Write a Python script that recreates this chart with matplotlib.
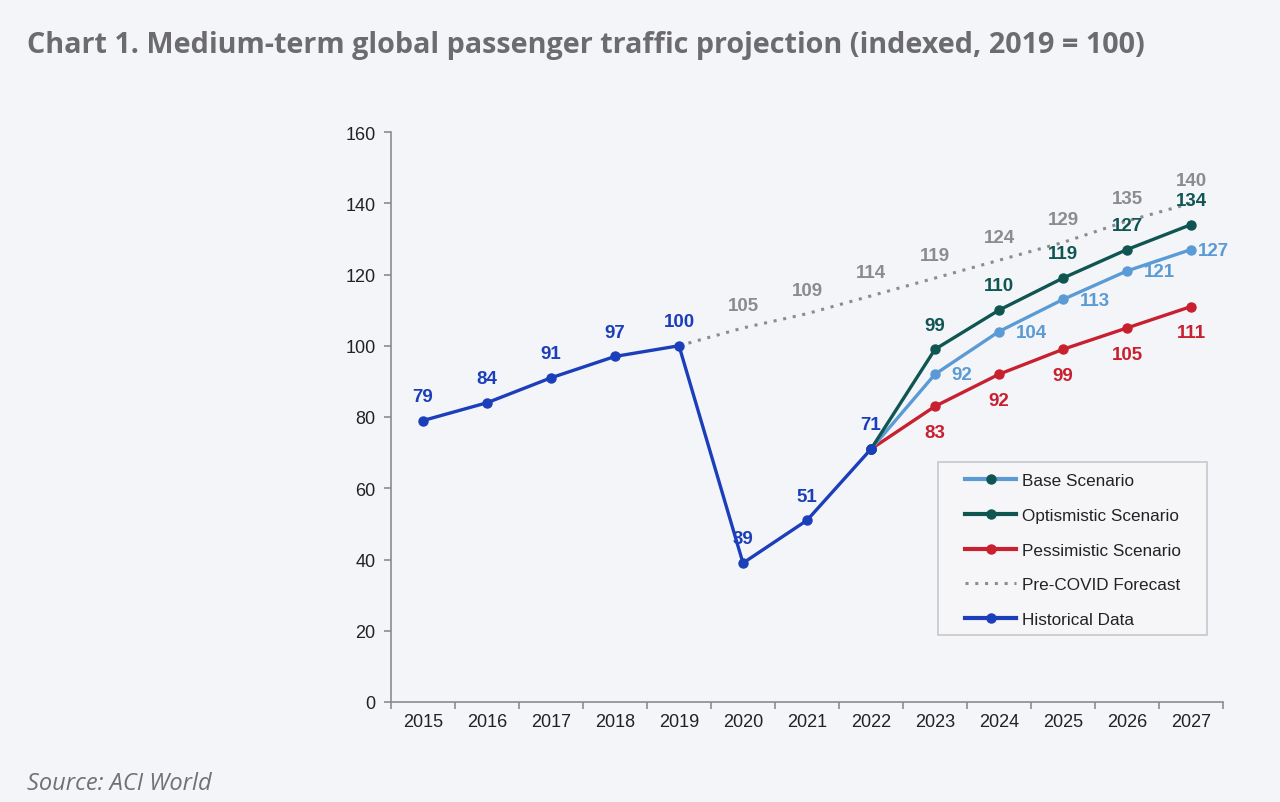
import matplotlib
matplotlib.use("Agg")
import matplotlib.pyplot as plt
from matplotlib.lines import Line2D
from matplotlib.patches import Rectangle

years = ["2015", "2016", "2017", "2018", "2019", "2020", "2021", "2022",
         "2023", "2024", "2025", "2026", "2027"]
historical = [79, 84, 91, 97, 100, 39, 51, 71]          # 2015-2022
precovid = [100, 105, 109, 114, 119, 124, 129, 135, 140]  # 2019-2027
base = [71, 92, 104, 113, 121, 127]                     # 2022-2027
optimistic = [71, 99, 110, 119, 127, 134]
pessimistic = [71, 83, 92, 99, 105, 111]

BG = "#F4F5F9"
C_HIST = "#1B3EBB"
C_BASE = "#5B9BD5"
C_OPT = "#0F5652"
C_PESS = "#C8202F"
C_PRE = "#8C8C8C"

plt.rcParams["font.family"] = ["Liberation Sans", "DejaVu Sans"]

W, H = 1280, 803
fig = plt.figure(figsize=(12.8, 8.03), dpi=100, facecolor=BG)
ax = fig.add_axes([391/W, 1-703/H, 832/W, 570/H], facecolor=BG)

xh = [i + 0.5 for i in range(0, 8)]
xp = [i + 0.5 for i in range(4, 13)]
xs = [i + 0.5 for i in range(7, 13)]

lw = 2.4
ms = 6.5
ax.plot(xp, precovid, linestyle=(0, (1, 2.2)), color=C_PRE, lw=2.2, zorder=2)
ax.plot(xh, historical, color=C_HIST, lw=lw, marker="o", ms=ms, zorder=3)
ax.plot(xs, pessimistic, color=C_PESS, lw=lw, marker="o", ms=ms, zorder=4)
ax.plot(xs, base, color=C_BASE, lw=lw, marker="o", ms=ms, zorder=5)
ax.plot(xs, optimistic, color=C_OPT, lw=lw, marker="o", ms=ms, zorder=6)
ax.plot(xs[:1], historical[-1:], color=C_HIST, marker="o", ms=ms, lw=0, zorder=7)

fs = 13.5
def lab(x, y, t, c, dx, dy, ha="center"):
    ax.annotate(t, (x, y), xytext=(dx, dy), textcoords="offset points",
                ha=ha, va="center", color=c, fontsize=fs, fontweight="bold", zorder=8)

for x, v in zip(xh, historical):
    lab(x, v, str(v), C_HIST, 0, 17.5)
for x, v in zip(xp[1:], precovid[1:]):
    lab(x, v, str(v), C_PRE, 0, 16.5)
for x, v in zip(xs[1:], optimistic[1:]):
    lab(x, v, str(v), C_OPT, 0, 17.5)
for x, v in zip(xs[1:], pessimistic[1:]):
    lab(x, v, str(v), C_PESS, 0, -19)
for i, (x, v) in enumerate(zip(xs[1:], base[1:])):
    lab(x, v, str(v), C_BASE, 12 if i < 4 else 5, -0.5, ha="left")

ax.set_xlim(0, 13)
ax.set_ylim(0, 160)
ax.set_yticks(range(0, 161, 20))
ax.set_xticks(range(0, 14))
ax.set_xticklabels([])
ax.set_xticks([i + 0.5 for i in range(13)], minor=True)
ax.set_xticklabels(years, minor=True)
ax.tick_params(axis="x", which="minor", length=0, pad=8, labelsize=13, colors="#222222")
ax.tick_params(axis="x", which="major", length=5, color="#8C8C8C", width=1.2)
ax.tick_params(axis="y", length=5, color="#8C8C8C", width=1.2, labelsize=13,
               labelcolor="#222222", pad=6)
for s in ["top", "right"]:
    ax.spines[s].set_visible(False)
for s in ["left", "bottom"]:
    ax.spines[s].set_color("#8C8C8C")
    ax.spines[s].set_linewidth(1.2)

# legend frame
fig.patches.append(Rectangle((938/W, 1-636/H), (1207-938)/W, (636-463)/H,
                             transform=fig.transFigure, facecolor="#F6F6F8",
                             edgecolor="#C8C8C8", lw=1.2, zorder=9))

handles = [
    Line2D([], [], color=C_BASE, lw=3, marker="o", ms=ms, markerfacecolor=C_OPT, markeredgecolor=C_OPT),
    Line2D([], [], color=C_OPT, lw=3, marker="o", ms=ms),
    Line2D([], [], color=C_PESS, lw=3, marker="o", ms=ms),
    Line2D([], [], color=C_PRE, lw=2.2, linestyle=(0, (1, 2.2))),
    Line2D([], [], color=C_HIST, lw=3, marker="o", ms=ms),
]
labels = ["Base Scenario", "Optismistic Scenario", "Pessimistic Scenario",
          "Pre-COVID Forecast", "Historical Data"]
leg = fig.legend(handles, labels, loc="upper left",
                 bbox_to_anchor=(965/W, 1-474/H),
                 fontsize=12.3, frameon=False,
                 handlelength=3.0, handletextpad=0.35, labelspacing=1.16,
                 borderpad=0, borderaxespad=0)
leg.set_zorder(10)
for t in leg.get_texts():
    t.set_color("#222222")

fig.text(27/W, 1-46/H, "Chart 1. Medium-term global passenger traffic projection (indexed, 2019 = 100)",
         fontsize=20.7, fontweight="bold", color="#6B6B70", family=["Open Sans", "DejaVu Sans"],
         ha="left", va="center")
fig.text(27/W, 1-784/H, "Source: ACI World", fontsize=17, style="italic",
         color="#707075", family=["Open Sans", "DejaVu Sans"], ha="left", va="center")

fig.savefig("out.png", dpi=100, facecolor=BG)
